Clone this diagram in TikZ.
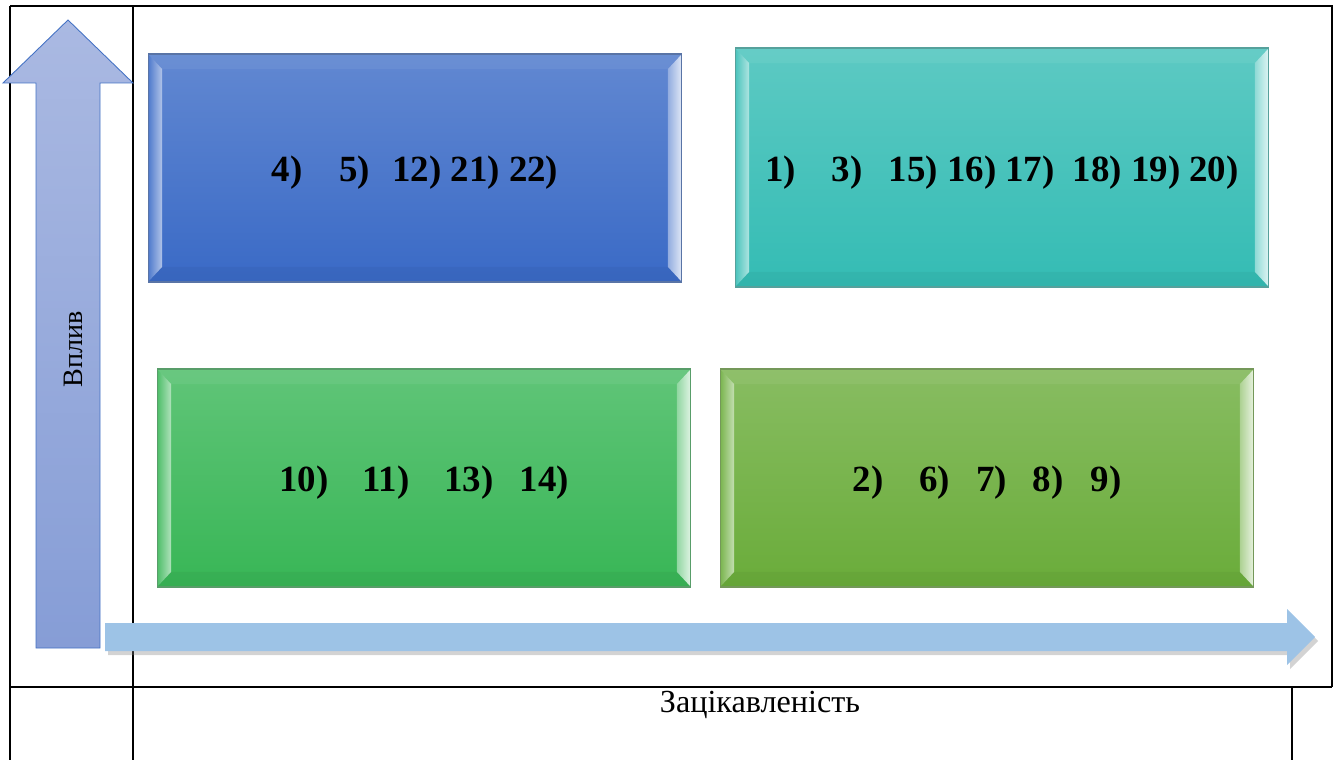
\documentclass[tikz,border=0pt]{standalone}
\usepackage{fontspec}
\setmainfont{Liberation Serif}
\usepackage{tikz}
\usetikzlibrary{shadows}

\definecolor{qblue}{RGB}{58,106,198}
\definecolor{qteal}{RGB}{52,188,180}
\definecolor{qgreen}{RGB}{56,182,86}
\definecolor{qolive}{RGB}{106,172,58}
\definecolor{upfill}{RGB}{170,185,226}
\definecolor{upfillb}{RGB}{134,157,214}
\definecolor{upline}{RGB}{68,114,196}
\definecolor{rightfill}{RGB}{157,195,230}

% numbers sit a little below the middle
\newcommand\nums[1]{\raisebox{-0.1cm}[\height][\depth]{#1}}

\tikzset{
  quad/.style={draw=#1!55!gray, line width=.6pt, top color=#1!80!white, bottom color=#1,
    minimum width=10.68cm, inner sep=0pt,
    font=\bfseries\fontsize{21}{25}\selectfont,
    path picture={
      \coordinate (o1) at (path picture bounding box.north west);
      \coordinate (o2) at (path picture bounding box.north east);
      \coordinate (o3) at (path picture bounding box.south east);
      \coordinate (o4) at (path picture bounding box.south west);
      \coordinate (i1) at ([shift={(.28cm,-.3cm)}]o1);
      \coordinate (i2) at ([shift={(-.28cm,-.3cm)}]o2);
      \coordinate (i3) at ([shift={(-.28cm,.3cm)}]o3);
      \coordinate (i4) at ([shift={(.28cm,.3cm)}]o4);
      \shade[left color=#1!90!white, right color=#1!40!white] (o1) -- (i1) -- (i4) -- (o4) -- cycle;
      \shade[left color=#1!55!white, right color=#1!15!white] (o2) -- (i2) -- (i3) -- (o3) -- cycle;
      \fill[white, opacity=.06] (o1) -- (o2) -- (i2) -- (i1) -- cycle;
      \fill[black, opacity=.04] (o4) -- (o3) -- (i3) -- (i4) -- cycle;
    }},
  grid line/.style={line width=1.1pt},
  axis label/.style={inner sep=0pt},
}

\begin{document}
\begin{tikzpicture}[x=0.02cm, y=-0.02cm]
  \useasboundingbox (0,0) rectangle (1339,760);

  % table frame
  \draw[grid line] (10,6) -- (1332,6) -- (1332,687);
  \draw[grid line] (10,6) -- (10,760);
  \draw[grid line] (133,6) -- (133,760);
  \draw[grid line] (10,687) -- (1332,687);
  \draw[grid line] (1292,687) -- (1292,760);

  % axes
  \shade[top color=upfill, bottom color=upfillb, draw=upline, line width=.5pt]
    (36,648) -- (36,83) -- (3,83) -- (68,20) -- (133,83) -- (100,83) -- (100,648) -- cycle;
  \fill[rightfill, drop shadow={opacity=.35, shadow xshift=.06cm, shadow yshift=-.08cm}]
    (105,623) -- (1287,623) -- (1287,609) -- (1315,637) -- (1287,665) -- (1287,651) -- (105,651) -- cycle;

  \node[axis label, rotate=90, font=\fontsize{16}{19}\selectfont] (infl) at (73,349) {Вплив};
  \node[axis label, font=\fontsize{18.3}{22}\selectfont] (inter) at (760,705) {Зацікавленість};

  % quadrants
  \node[quad=qblue, minimum height=4.56cm] (q1) at (415,168)
    {\nums{4)\hspace{0.74cm}5)\hspace{0.44cm}12) 21) 22)}};
  \node[quad=qteal, minimum height=4.78cm] (q2) at (1002,167.5)
    {\nums{1)\hspace{0.72cm}3)\hspace{0.52cm}15) 16) 17)\hspace{0.36cm}18) 19) 20)}};
  \node[quad=qgreen, minimum height=4.36cm] (q3) at (424,478)
    {\nums{10)\hspace{0.68cm}11)\hspace{0.7cm}13)\hspace{0.52cm}14)}};
  \node[quad=qolive, minimum height=4.36cm] (q4) at (987,478)
    {\nums{2)\hspace{0.72cm}6)\hspace{0.52cm}7)\hspace{0.52cm}8)\hspace{0.54cm}9)}};
\end{tikzpicture}
\end{document}
